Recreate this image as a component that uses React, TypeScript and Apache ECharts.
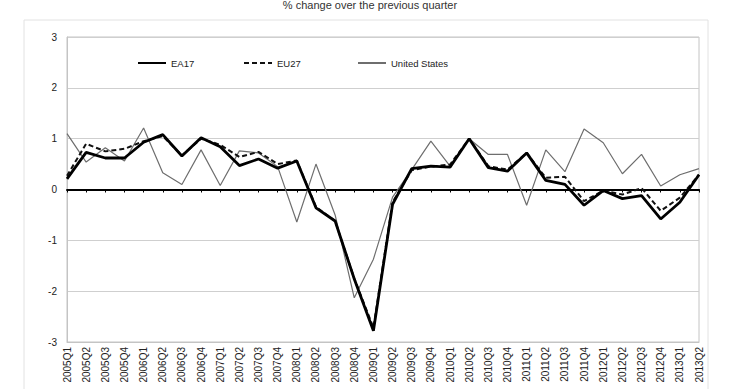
import React, { useEffect, useRef } from "react";
import * as echarts from "echarts";

const quarters = [
  "2005Q1","2005Q2","2005Q3","2005Q4","2006Q1","2006Q2","2006Q3","2006Q4",
  "2007Q1","2007Q2","2007Q3","2007Q4","2008Q1","2008Q2","2008Q3","2008Q4",
  "2009Q1","2009Q2","2009Q3","2009Q4","2010Q1","2010Q2","2010Q3","2010Q4",
  "2011Q1","2011Q2","2011Q3","2011Q4","2012Q1","2012Q2","2012Q3","2012Q4",
  "2013Q1","2013Q2",
];

const ea17 = [0.21, 0.73, 0.62, 0.62, 0.93, 1.08, 0.66, 1.02, 0.84, 0.47, 0.6, 0.42, 0.56, -0.36, -0.62, -1.76, -2.78, -0.29, 0.41, 0.46, 0.44, 1.0, 0.43, 0.36, 0.72, 0.18, 0.1, -0.31, -0.02, -0.18, -0.12, -0.58, -0.25, 0.29];
const eu27 = [0.27, 0.9, 0.75, 0.8, 0.95, 1.05, 0.67, 1.0, 0.88, 0.64, 0.74, 0.5, 0.57, -0.34, -0.62, -1.75, -2.72, -0.25, 0.38, 0.45, 0.49, 1.0, 0.46, 0.39, 0.72, 0.23, 0.25, -0.23, -0.02, -0.1, 0.03, -0.42, -0.16, 0.29];
const us = [1.1, 0.54, 0.82, 0.56, 1.21, 0.33, 0.1, 0.78, 0.08, 0.76, 0.72, 0.45, -0.64, 0.5, -0.5, -2.13, -1.37, -0.15, 0.39, 0.95, 0.46, 1.0, 0.69, 0.69, -0.31, 0.78, 0.35, 1.19, 0.92, 0.31, 0.69, 0.07, 0.29, 0.41];

const seriesNames = ["EA17", "EU27", "United States"];
const titleText = "% change over the previous quarter";
const FONT = "'Liberation Sans', Arial, sans-serif";

export default function App() {
  const ref = useRef<HTMLDivElement>(null);
  useEffect(() => {
    if (!ref.current) return;
    const chart = echarts.init(ref.current, undefined, { renderer: "svg" });
    const legendLefts = [132, 238, 352];
    chart.setOption({
      animation: false,
      backgroundColor: "#fff",
      textStyle: { fontFamily: FONT },
      title: {
        text: titleText,
        left: "center",
        top: -6,
        textStyle: { fontSize: 11, fontWeight: "normal", color: "#333", fontFamily: FONT },
      },
      graphic: [
        {
          type: "rect",
          shape: { x: 24, y: 20, width: 684, height: 380 },
          style: { fill: "none", stroke: "#e2e2e2", lineWidth: 1 },
          silent: true,
          z: -1,
        },
      ],
      legend: seriesNames.map((n, i) => ({
        left: legendLefts[i],
        top: 53,
        itemWidth: 28,
        itemHeight: 10,
        itemStyle: { opacity: 0, borderWidth: 0 },
        textStyle: { fontSize: 9.5, color: "#222", fontFamily: FONT },
        data: [n],
      })),
      grid: {
        left: 67,
        right: 41,
        top: 37,
        bottom: 47,
        show: true,
        borderColor: "#c4c4c4",
        borderWidth: 1,
      },
      xAxis: [
        {
          type: "category",
          data: quarters,
          boundaryGap: false,
          position: "bottom",
          axisLine: { onZero: false, lineStyle: { color: "#c4c4c4", width: 1 } },
          axisTick: { show: false },
          axisLabel: {
            rotate: 90,
            interval: 0,
            fontSize: 10,
            color: "#222",
            margin: 5,
            fontFamily: FONT,
          },
          splitLine: { show: false },
        },
        {
          type: "category",
          data: quarters,
          boundaryGap: false,
          position: "top",
          axisLine: { onZero: true, lineStyle: { color: "#000", width: 2 } },
          axisTick: { show: true, inside: true, length: 3, interval: 0, alignWithLabel: true, lineStyle: { color: "#000", width: 1 } },
          axisLabel: { show: false },
          splitLine: { show: false },
        },
      ],
      yAxis: {
        type: "value",
        min: -3,
        max: 3,
        interval: 1,
        axisLine: { show: true, lineStyle: { color: "#c4c4c4" } },
        axisTick: { show: false },
        axisLabel: { fontSize: 10, color: "#222", margin: 10, fontFamily: FONT },
        splitLine: { show: true, lineStyle: { color: "#cfcfcf", width: 1 } },
      },
      series: [
        {
          name: seriesNames[2],
          type: "line",
          data: us,
          symbol: "none",
          xAxisIndex: 0,
          lineStyle: { color: "#6e6e6e", width: 1.2 },
          itemStyle: { color: "#6e6e6e" },
          z: 2,
        },
        {
          name: seriesNames[1],
          type: "line",
          data: eu27,
          symbol: "none",
          xAxisIndex: 0,
          lineStyle: { color: "#111", width: 2, type: [5, 3] },
          itemStyle: { color: "#111" },
          z: 3,
        },
        {
          name: seriesNames[0],
          type: "line",
          data: ea17,
          symbol: "none",
          xAxisIndex: 0,
          lineStyle: { color: "#000", width: 2.8 },
          itemStyle: { color: "#000" },
          z: 4,
        },
      ],
    });
    return () => chart.dispose();
  }, []);
  return (
    <div
      ref={ref}
      style={{ position: "fixed", left: 0, top: 0, width: 740, height: 389 }}
    />
  );
}
